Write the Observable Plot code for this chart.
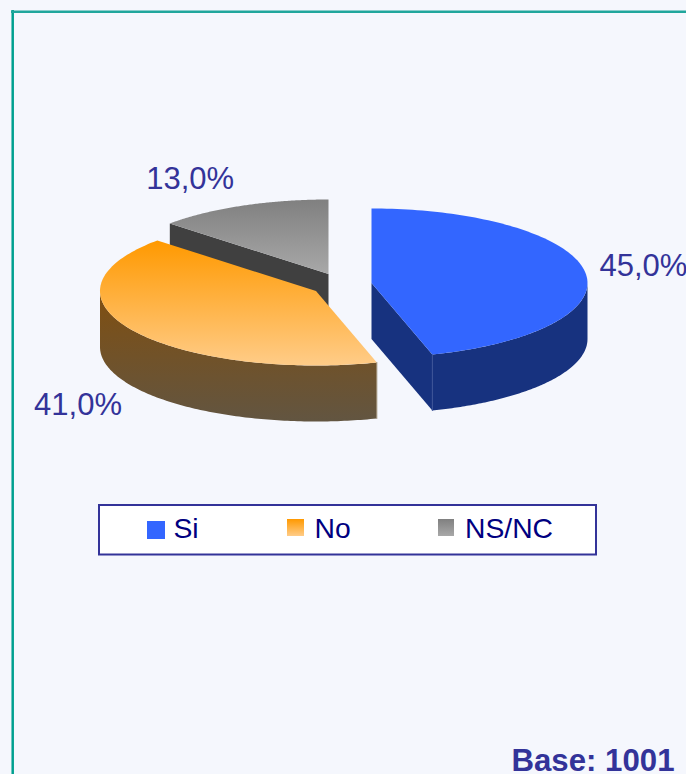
<!DOCTYPE html>
<html>
<head>
<meta charset="utf-8">
<style>
html,body{margin:0;padding:0;background:#f5f7fd;overflow:hidden}
svg{display:block}
</style>
<script src="https://cdn.jsdelivr.net/npm/d3@7"></script>
<script src="https://cdn.jsdelivr.net/npm/@observablehq/plot@0.6"></script>
</head>
<body>
<script>
const categories = ["Si", "No", "NS/NC"];
const values = [45, 41, 13];
const valueLabels = ["45,0%", "41,0%", "13,0%"];
const baseNote = "Base: 1001";

const font = "'Liberation Sans', Arial, sans-serif";
const rx = 216, ry = 74.5, depth = 56;
const centers = [[371, 282.5], [315.5, 290.5], [328, 273.5]];

// Slice angles come from the values (they add up to 99, as the reference pie does).
const total = d3.sum(values);
const cum = d3.cumsum(values);
const angle = v => v / total * 360;
const spans = values.map((v, i) => [angle(cum[i] - v), angle(cum[i])]);

const rimPoint = ([cx, cy], deg, drop = 0) => {
  const t = deg * Math.PI / 180;
  return {x: cx + rx * Math.sin(t), y: cy - ry * Math.cos(t) + drop};
};
const arcPoints = (c, a0, a1, drop = 0) =>
  d3.range(0, 121).map(k => rimPoint(c, a0 + (a1 - a0) * k / 120, drop));
const topFace = (c, a0, a1) => [{x: c[0], y: c[1]}, ...arcPoints(c, a0, a1)];
const wallFace = (c, a0, a1) => [...arcPoints(c, a0, a1), ...arcPoints(c, a0, a1, depth).reverse()];
const cutFace = (c, a) => [{x: c[0], y: c[1]}, rimPoint(c, a), rimPoint(c, a, depth), {x: c[0], y: c[1] + depth}];
const poly = (pts, fill) => Plot.line(pts, {x: "x", y: "y", fill, stroke: "none", curve: "linear-closed"});

const [siSpan, noSpan, nsSpan] = spans;
const [siC, noC, nsC] = centers;

const labelRows = [
  {x: 77.5, y: 405, t: valueLabels[1]},
  {x: 189.7, y: 179, t: valueLabels[2]}
];
const legendRows = [
  {x1: 147, x2: 165, y1: 521, y2: 539, tx: 173, fill: "#3366ff", t: categories[0]},
  {x1: 287, x2: 304, y1: 519, y2: 536, tx: 314, fill: "url(#gNo)", t: categories[1]},
  {x1: 438, x2: 454, y1: 519, y2: 536, tx: 464.5, fill: "url(#gNs)", t: categories[2]}
];

const chart = Plot.plot({
  width: 686, height: 774,
  margin: 0,
  style: {background: "transparent", fontFamily: font},
  x: {domain: [0, 686], range: [0, 686], axis: null},
  y: {domain: [0, 774], range: [0, 774], axis: null},
  marks: [
    // page frame
    Plot.ruleX([12.2], {y1: 10, y2: 774, stroke: "#00a090", strokeWidth: 2.5}),
    Plot.ruleY([11.2], {x1: 11, x2: 686, stroke: "#20a69c", strokeWidth: 2.5}),

    // NS/NC slice
    poly(cutFace(nsC, nsSpan[0]), "#404040"),
    poly(topFace(nsC, nsSpan[0], nsSpan[1]), "url(#gNs)"),

    // No slice
    poly(wallFace(noC, noSpan[0], 270), "url(#gNoWall)"),
    poly(topFace(noC, noSpan[0], noSpan[1]), "url(#gNo)"),
    Plot.line([rimPoint(noC, noSpan[0]), rimPoint(noC, noSpan[0], depth)], {x: "x", y: "y", stroke: "#a89a84", strokeWidth: 1}),

    // Si slice
    poly(wallFace(siC, 90, siSpan[1]), "#17327f"),
    poly(cutFace(siC, siSpan[1]), "#17327f"),
    Plot.line([rimPoint(siC, siSpan[1]), rimPoint(siC, siSpan[1], depth)], {x: "x", y: "y", stroke: "#3a5296", strokeWidth: 1}),
    poly(topFace(siC, siSpan[0], siSpan[1]), "#3366ff"),

    // value labels
    Plot.text(labelRows, {x: "x", y: "y", text: "t", textAnchor: "middle", fill: "#333399", fontSize: 31, lineAnchor: "middle"}),
    Plot.text([valueLabels[0]], {x: 599, y: 266, text: d => d, textAnchor: "start", fill: "#333399", fontSize: 31, lineAnchor: "middle"}),

    // legend
    Plot.rect([{x1: 99, x2: 596, y1: 505, y2: 554.5}], {x1: "x1", x2: "x2", y1: "y1", y2: "y2", fill: "white", stroke: "#333399", strokeWidth: 2}),
    ...legendRows.map(d => Plot.rect([d], {x1: "x1", x2: "x2", y1: "y1", y2: "y2", fill: d.fill})),
    Plot.text(legendRows, {x: "tx", y: 528.5, text: "t", textAnchor: "start", fill: "#000080", fontSize: 28.3, lineAnchor: "middle"}),

    // base note
    Plot.text([baseNote], {x: 674, y: 761, text: d => d, textAnchor: "end", fill: "#333399", fontSize: 31.2, fontWeight: "bold", lineAnchor: "middle"})
  ]
});

const defs = d3.select(chart).insert("svg:defs", ":first-child");
const grad = (id, c0, c1) => {
  const g = defs.append("linearGradient").attr("id", id).attr("x1", 0).attr("y1", 0).attr("x2", 0).attr("y2", 1);
  g.append("stop").attr("offset", 0).attr("stop-color", c0);
  g.append("stop").attr("offset", 1).attr("stop-color", c1);
};
grad("gNo", "#ff9900", "#ffcc88");
grad("gNs", "#808080", "#a8a8a8");
grad("gNoWall", "#804f10", "#625541");

document.body.appendChild(chart);
</script>
</body>
</html>
